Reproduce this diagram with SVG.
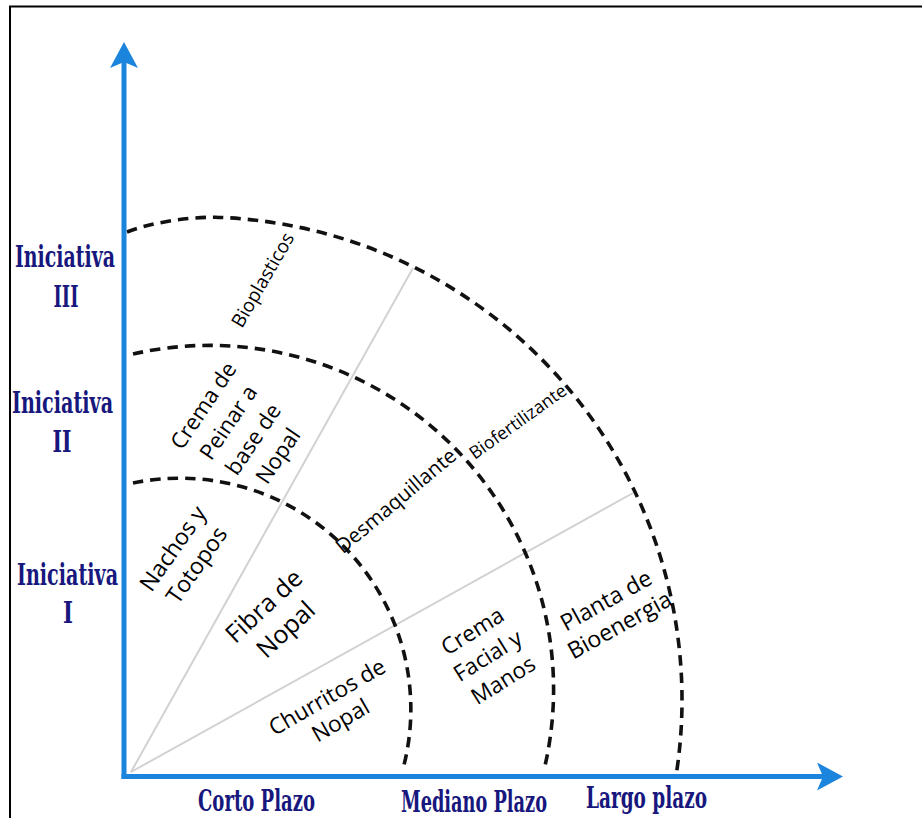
<svg xmlns="http://www.w3.org/2000/svg" width="922" height="818" viewBox="0 0 922 818">
<style>
.frame{fill:none;stroke:#000;stroke-width:2}
.axis{fill:none;stroke:#1b84dc;stroke-width:5}
.arc{fill:none;stroke:#111;stroke-width:3.6;stroke-dasharray:10.5 7}
.ray{fill:none;stroke:#d2d2d2;stroke-width:2}
.lbl{font-family:"Open Sans","Noto Sans","DejaVu Sans",sans-serif;fill:#000;text-anchor:middle}
.ax{font-family:"DejaVu Serif","Liberation Serif",serif;font-weight:bold;font-stretch:condensed;fill:#17177d;font-size:30px}
</style>
<defs>
<marker id="arrow" viewBox="0 0 26 28" markerWidth="26" markerHeight="28" refX="6" refY="14" markerUnits="userSpaceOnUse" orient="auto">
<path d="M26,14 L0,0 L6,14 L0,28 Z" fill="#1b84dc"/>
</marker>
</defs>
<rect width="922" height="818" fill="#fff"/>
<path class="frame" d="M10,818 V6.5 H922"/>

<g id="connectors">
<line class="ray" x1="131" y1="772" x2="413" y2="268"/>
<line class="ray" x1="131" y1="772" x2="633" y2="493"/>
<path class="arc" d="M133,483 A231,231 0 0 1 404,765"/>
<path class="arc" d="M133,354 A344,344 0 0 1 544,770"/>
<path class="arc" d="M127,232 C150,223 185,217.2 215,217.2 A482,483 0 0 1 676,776"/>
<path class="axis" d="M124,779 V62" marker-end="url(#arrow)"/>
<path class="axis" d="M121.5,776.5 H823" marker-end="url(#arrow)"/>
</g>

<g id="axis-y-labels">
<text class="ax" transform="translate(15,267) scale(0.75,1)" textLength="133.3" lengthAdjust="spacingAndGlyphs">Iniciativa</text>
<text class="ax" transform="translate(53.5,307) scale(0.75,1)" textLength="33.3" lengthAdjust="spacingAndGlyphs">III</text>
<text class="ax" transform="translate(12,413) scale(0.75,1)" textLength="134.7" lengthAdjust="spacingAndGlyphs">Iniciativa</text>
<text class="ax" transform="translate(52.5,452) scale(0.75,1)" textLength="25.3" lengthAdjust="spacingAndGlyphs">II</text>
<text class="ax" transform="translate(17,585) scale(0.75,1)" textLength="134.7" lengthAdjust="spacingAndGlyphs">Iniciativa</text>
<text class="ax" transform="translate(63,623) scale(0.75,1)" textLength="13.3" lengthAdjust="spacingAndGlyphs">I</text>
</g>
<g id="axis-x-labels">
<text class="ax" transform="translate(198,811) scale(0.75,1)" textLength="156" lengthAdjust="spacingAndGlyphs">Corto Plazo</text>
<text class="ax" transform="translate(401,811.5) scale(0.75,1)" textLength="194.7" lengthAdjust="spacingAndGlyphs">Mediano Plazo</text>
<text class="ax" transform="translate(586,808) scale(0.75,1)" textLength="161.3" lengthAdjust="spacingAndGlyphs">Largo plazo</text>
</g>

<g id="bioplasticos" transform="translate(263,280) rotate(-60)">
<text class="lbl" font-size="19"><tspan x="0" y="6.3">Bioplasticos</tspan></text>
</g>
<g id="crema-peinar" transform="translate(241,431) rotate(-56)">
<text class="lbl" font-size="22"><tspan x="0" y="-37.7">Crema de</tspan><tspan x="0" y="-7.7">Peinar a</tspan><tspan x="0" y="22.3">base de</tspan><tspan x="0" y="52.3">Nopal</tspan></text>
</g>
<g id="nachos" transform="translate(185,557) rotate(-55)">
<text class="lbl" font-size="23"><tspan x="0" y="-6.9">Nachos y</tspan><tspan x="0" y="22.1">Totopos</tspan></text>
</g>
<g id="fibra" transform="translate(275,618) rotate(-43)">
<text class="lbl" font-size="25"><tspan x="0" y="-7.7">Fibra de</tspan><tspan x="0" y="24.3">Nopal</tspan></text>
</g>
<g id="churritos" transform="translate(334,709) rotate(-30)">
<text class="lbl" font-size="22.5"><tspan x="0" y="-6.1">Churritos de</tspan><tspan x="0" y="20.9">Nopal</tspan></text>
</g>
<g id="desmaquillante" transform="translate(396,501) rotate(-40)">
<text class="lbl" font-size="20.5"><tspan x="0" y="6.8">Desmaquillante</tspan></text>
</g>
<g id="biofertilizante" transform="translate(518,422) rotate(-35.6)">
<text class="lbl" font-size="17.7"><tspan x="0" y="5.8">Biofertilizante</tspan></text>
</g>
<g id="crema-facial" transform="translate(488,656) rotate(-32)">
<text class="lbl" font-size="22.5"><tspan x="0" y="-21.6">Crema</tspan><tspan x="0" y="7.4">Facial y</tspan><tspan x="0" y="36.4">Manos</tspan></text>
</g>
<g id="planta" transform="translate(613,613) rotate(-29)">
<text class="lbl" font-size="23"><tspan x="0" y="-6.4">Planta de</tspan><tspan x="0" y="21.6">Bioenergia</tspan></text>
</g>
</svg>
